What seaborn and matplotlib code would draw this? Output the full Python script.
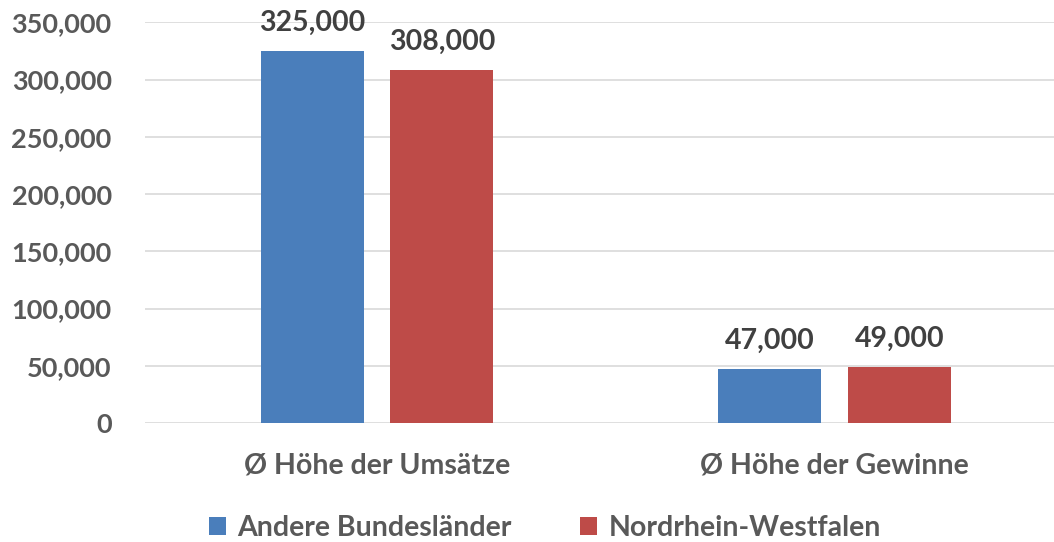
import matplotlib
matplotlib.use("Agg")
import matplotlib.pyplot as plt
import seaborn as sns
import pandas as pd

# Daten
categories = ["Ø Höhe der Umsätze", "Ø Höhe der Gewinne"]
series = ["Andere Bundesländer", "Nordrhein-Westfalen"]
andere = [325000, 47000]
nrw = [308000, 49000]
colors = ["#4A7EBB", "#BE4B48"]
yticks = [0, 50000, 100000, 150000, 200000, 250000, 300000, 350000]

df = pd.DataFrame({
    "kategorie": categories * 2,
    "region": [series[0]] * len(categories) + [series[1]] * len(categories),
    "wert": andere + nrw,
})

sns.set_theme(style="white")
plt.rcParams["font.family"] = ["Lato", "DejaVu Sans"]
plt.rcParams["font.weight"] = "bold"

fig = plt.figure(figsize=(10.54, 5.42), dpi=100)
ax = fig.add_axes([145 / 1054, 119 / 542, 915 / 1054, 400.7 / 542])

sns.barplot(data=df, x="kategorie", y="wert", hue="region", palette=colors,
            width=0.567, gap=0.206, saturation=1, ax=ax, linewidth=0)

ax.set_xlim(-0.507, 1.493)
ax.set_ylim(0, 350000)
ax.set_yticks(yticks)
ax.set_yticklabels([f"{v:,}" for v in yticks])
ax.yaxis.grid(True, color="#D9D9D9", linewidth=1.2)
ax.set_axisbelow(True)
for s in ax.spines.values():
    s.set_visible(False)
ax.set_xlabel("")
ax.set_ylabel("")
ax.tick_params(axis="y", length=0, pad=24, labelsize=19.5, labelcolor="#595959")
ax.tick_params(axis="x", length=0, pad=21, labelsize=20.5, labelcolor="#595959")

# Datenbeschriftungen
for cont in ax.containers:
    ax.bar_label(cont, labels=[f"{v:,.0f}" for v in cont.datavalues],
                 padding=11, fontsize=20.5, color="#404040", fontweight="bold")

# Legende unten
handles, labels = ax.get_legend_handles_labels()
ax.get_legend().remove()
leg = fig.legend(handles, labels, loc="center", bbox_to_anchor=(545 / 1054, 1 - 528 / 542),
                 ncol=2, frameon=False, fontsize=20.5, handlelength=0.6, handleheight=0.6,
                 handletextpad=0.4, columnspacing=2.4)
for t in leg.get_texts():
    t.set_color("#595959")

fig.savefig("out.png", dpi=100)
